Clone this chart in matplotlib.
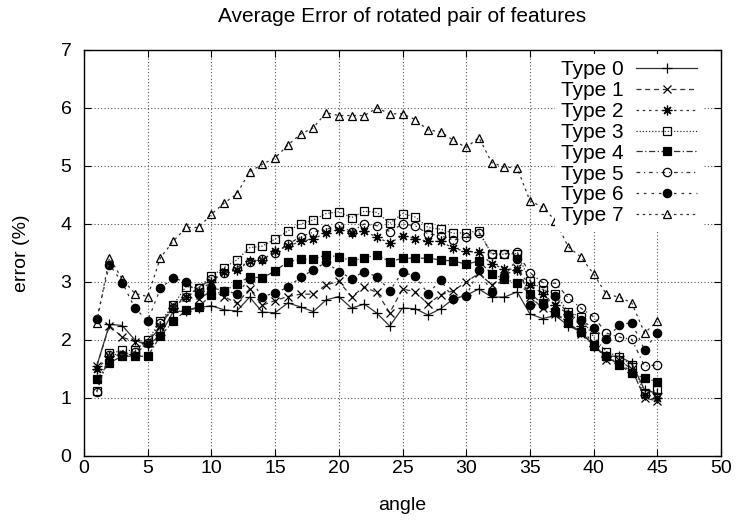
import matplotlib
matplotlib.use("Agg")
import matplotlib.pyplot as plt
import numpy as np

plt.rcParams['font.family'] = ['Liberation Sans', 'DejaVu Sans']

angles = list(range(1, 46))

type0 = [1.55, 2.27, 2.25, 2.0, 1.9, 2.09, 2.49, 2.5, 2.56, 2.59, 2.52, 2.5, 2.74, 2.48, 2.47,
         2.64, 2.57, 2.49, 2.69, 2.75, 2.55, 2.62, 2.46, 2.24, 2.55, 2.54, 2.43, 2.54, 2.71, 2.77,
         2.88, 2.74, 2.74, 2.83, 2.45, 2.37, 2.42, 2.25, 2.14, 1.9, 1.72, 1.72, 1.6, 1.14, 1.08]
type1 = [1.55, 2.25, 2.05, 1.97, 1.95, 2.23, 2.6, 2.75, 2.7, 2.85, 2.75, 2.63, 2.88, 2.6, 2.68,
         2.75, 2.79, 2.79, 2.95, 3.01, 2.75, 2.91, 2.82, 2.47, 2.88, 2.83, 2.62, 2.78, 2.85, 3.0,
         3.15, 2.95, 3.1, 3.25, 2.75, 2.55, 2.45, 2.3, 2.1, 1.95, 1.65, 1.65, 1.5, 1.0, 0.95]
type2 = [1.5, 1.72, 1.75, 1.75, 1.95, 2.25, 2.55, 2.75, 2.85, 3.0, 3.18, 3.2, 3.36, 3.38, 3.53,
         3.62, 3.7, 3.74, 3.85, 3.9, 3.85, 3.88, 3.77, 3.67, 3.8, 3.75, 3.7, 3.7, 3.58, 3.53,
         3.51, 3.31, 3.23, 3.21, 2.95, 2.8, 2.6, 2.45, 2.25, 1.9, 1.7, 1.6, 1.45, 1.05, 1.0]
type3 = [1.12, 1.77, 1.82, 1.82, 2.0, 2.32, 2.6, 2.92, 2.9, 3.1, 3.25, 3.38, 3.59, 3.62, 3.74,
         3.88, 4.0, 4.07, 4.18, 4.21, 4.11, 4.22, 4.2, 4.01, 4.18, 4.12, 3.94, 3.91, 3.84, 3.85,
         3.88, 3.48, 3.48, 3.49, 3.02, 2.87, 2.8, 2.48, 2.4, 2.05, 1.8, 1.71, 1.57, 1.09, 1.13]
type4 = [1.32, 1.61, 1.72, 1.72, 1.72, 2.07, 2.32, 2.51, 2.57, 2.78, 2.84, 2.97, 3.09, 3.07, 3.19,
         3.35, 3.39, 3.39, 3.47, 3.43, 3.37, 3.41, 3.47, 3.35, 3.41, 3.41, 3.41, 3.38, 3.36, 3.31,
         3.36, 3.14, 3.05, 2.98, 2.8, 2.63, 2.49, 2.29, 2.14, 1.9, 1.72, 1.57, 1.43, 1.34, 1.28]
type5 = [1.1, 1.75, 1.75, 1.8, 1.95, 2.3, 2.55, 2.75, 2.9, 3.05, 3.15, 3.25, 3.35, 3.4, 3.5,
         3.65, 3.78, 3.86, 3.91, 3.96, 3.87, 4.0, 3.97, 3.87, 4.0, 3.97, 3.83, 3.8, 3.72, 3.78,
         3.85, 3.49, 3.49, 3.51, 3.16, 2.99, 2.98, 2.73, 2.55, 2.4, 2.12, 2.05, 2.01, 1.55, 1.57]
type6 = [2.37, 3.3, 2.99, 2.55, 2.33, 2.89, 3.07, 3.0, 2.8, 2.9, 2.85, 2.8, 3.05, 2.75, 2.81,
         2.91, 3.08, 3.21, 3.34, 3.18, 3.06, 3.18, 3.09, 2.85, 3.17, 3.1, 2.8, 3.03, 2.71, 2.76,
         3.21, 2.82, 3.1, 3.4, 2.61, 2.6, 2.76, 2.43, 2.35, 2.2, 2.01, 2.26, 2.3, 1.83, 2.12]
type7 = [2.3, 3.42, 3.05, 2.8, 2.75, 3.42, 3.7, 3.94, 3.94, 4.17, 4.36, 4.52, 4.9, 5.03, 5.14,
         5.36, 5.55, 5.66, 5.92, 5.87, 5.87, 5.87, 6.0, 5.9, 5.9, 5.8, 5.62, 5.59, 5.44, 5.32,
         5.49, 5.06, 4.98, 4.97, 4.40, 4.29, 4.06, 3.61, 3.43, 3.14, 2.79, 2.74, 2.64, 2.12, 2.32]

labels = ['Type 0', 'Type 1', 'Type 2', 'Type 3', 'Type 4', 'Type 5', 'Type 6', 'Type 7']
series = [type0, type1, type2, type3, type4, type5, type6, type7]

xticks = [0, 5, 10, 15, 20, 25, 30, 35, 40, 45, 50]
yticks = [0, 1, 2, 3, 4, 5, 6, 7]

styles = [
    dict(ls='-', marker='+', ms=7, mfc='none'),
    dict(ls=(0, (4, 3)), marker='x', ms=6, mfc='none'),
    dict(ls=(0, (2, 3)), marker=(8, 2, 0), ms=7, mfc='none'),
    dict(ls=(0, (1, 1.5)), marker='s', ms=6, mfc='none'),
    dict(ls=(0, (5, 2, 1, 2)), marker='s', ms=6, mfc='black'),
    dict(ls=(0, (3, 3, 1, 3)), marker='o', ms=6, mfc='none'),
    dict(ls=(0, (2, 4)), marker='o', ms=6, mfc='black'),
    dict(ls=(0, (2, 3)), marker='^', ms=6, mfc='none'),
]

fig = plt.figure(figsize=(7.38, 5.23), dpi=100)
ax = fig.add_axes([84/738, 67/523, 637/738, 406/523])

for lab, vals, st in zip(labels, series, styles):
    ax.plot(angles, vals, color='#333333', lw=0.9, mec='black', mew=0.9,
            label=lab, **st)

ax.set_xlim(0, 50)
ax.set_ylim(0, 7)
ax.set_xticks(xticks)
ax.set_yticks(yticks)
ax.tick_params(direction='in', length=5, width=0.8, top=True, right=True,
               labelsize=14)
ax.tick_params(axis='x', pad=3)
ax.tick_params(axis='y', pad=9)
ax.grid(True, color='#555555', lw=0.8, ls=(0, (1, 2)))
for s in ax.spines.values():
    s.set_linewidth(1.0)

leg = ax.legend(loc='upper right', bbox_to_anchor=(703/738, 1-54/523),
                bbox_transform=fig.transFigure, markerfirst=False,
                fontsize=15, handlelength=2.9, handletextpad=0.6,
                labelspacing=0.09, borderpad=0.3, borderaxespad=0,
                frameon=True, fancybox=False, framealpha=1.0)
leg.get_frame().set_edgecolor('none')
leg.get_frame().set_facecolor('white')

fig.text(402/738, 1-17/523, 'Average Error of rotated pair of features',
         ha='center', va='center', fontsize=15)
fig.text(402/738, 1-505/523, 'angle', ha='center', va='center', fontsize=14)
fig.text(22/738, 1-253/523, 'error (%)', ha='center', va='center',
         rotation=90, fontsize=14)

fig.savefig('out.png', dpi=100)
